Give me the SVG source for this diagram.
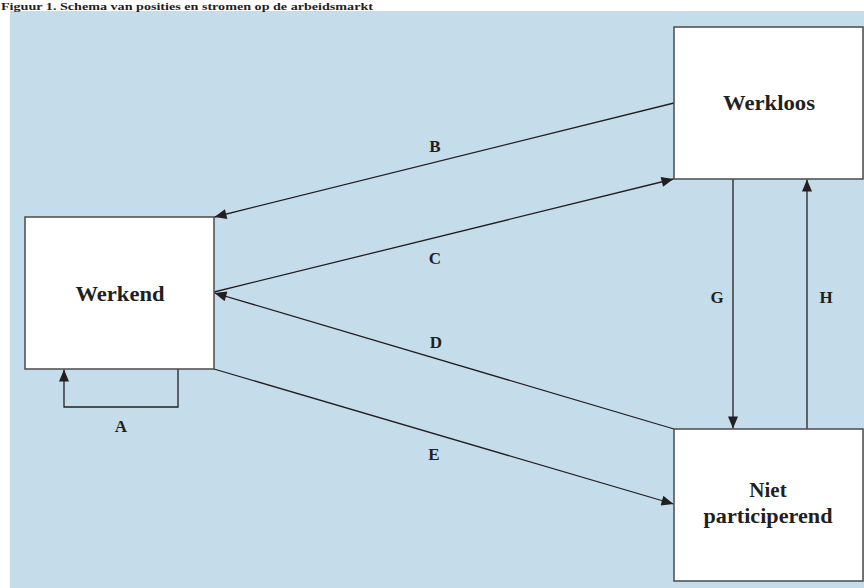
<svg xmlns="http://www.w3.org/2000/svg" width="864" height="588" viewBox="0 0 864 588">
<defs>
<style>
.bg{fill:#c5ddea}
.box{fill:#ffffff;stroke:#4a4a4a;stroke-width:1.5}
.edge{fill:none;stroke:#231f20;stroke-width:1.3}
.node{font-family:"Liberation Serif","Times New Roman",serif;font-weight:bold;font-size:21px;fill:#231f20;text-anchor:middle}
.lbl{font-family:"Liberation Serif","Times New Roman",serif;font-weight:bold;font-size:17px;fill:#231f20;text-anchor:middle}
.title{font-family:"Liberation Serif","Times New Roman",serif;font-weight:bold;font-size:11px;fill:#231f20}
</style>
<marker id="arr" viewBox="0 0 12 10" refX="12" refY="5" markerWidth="13" markerHeight="10" markerUnits="userSpaceOnUse" orient="auto">
<path d="M0,0 L12,5 L0,10 Z" fill="#231f20"/>
</marker>
</defs>
<rect x="0" y="0" width="864" height="588" fill="#ffffff"/>
<rect class="bg" x="10" y="11" width="854" height="577"/>
<text class="title" x="1" y="10" textLength="372" lengthAdjust="spacingAndGlyphs">Figuur 1.  Schema van posities en stromen op de arbeidsmarkt</text>
<g id="connectors">
<path class="edge" d="M178,369 V407 H64 V369.5" marker-end="url(#arr)"/>
<line class="edge" x1="674" y1="103" x2="214.5" y2="217" marker-end="url(#arr)"/>
<line class="edge" x1="214" y1="292" x2="673.5" y2="179" marker-end="url(#arr)"/>
<line class="edge" x1="674" y1="429" x2="214.5" y2="293" marker-end="url(#arr)"/>
<line class="edge" x1="214" y1="369" x2="673.5" y2="504" marker-end="url(#arr)"/>
<line class="edge" x1="733" y1="179" x2="733" y2="428.5" marker-end="url(#arr)"/>
<line class="edge" x1="807" y1="429" x2="807" y2="179.5" marker-end="url(#arr)"/>
<text class="lbl" x="121" y="432">A</text>
<text class="lbl" x="435" y="152">B</text>
<text class="lbl" x="435" y="264">C</text>
<text class="lbl" x="436" y="348">D</text>
<text class="lbl" x="434" y="460">E</text>
<text class="lbl" x="717" y="303">G</text>
<text class="lbl" x="826" y="303">H</text>
</g>
<g id="werkend">
<rect class="box" x="25" y="217" width="189" height="152"/>
<text class="node" x="120" y="301" textLength="89" lengthAdjust="spacingAndGlyphs">Werkend</text>
</g>
<g id="werkloos">
<rect class="box" x="674" y="27" width="189" height="152"/>
<text class="node" x="769" y="110" textLength="92" lengthAdjust="spacingAndGlyphs">Werkloos</text>
</g>
<g id="niet-participerend">
<rect class="box" x="674" y="429" width="189" height="152"/>
<text class="node" x="768" y="497">Niet</text>
<text class="node" x="768" y="523" textLength="129" lengthAdjust="spacingAndGlyphs">participerend</text>
</g>
</svg>
